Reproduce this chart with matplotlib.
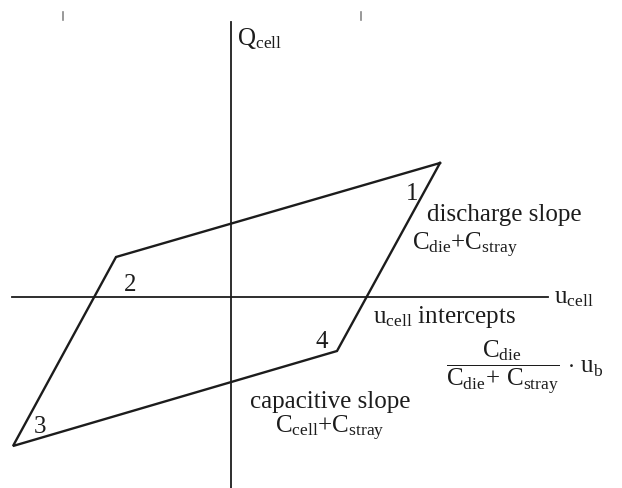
import matplotlib
matplotlib.use("Agg")
import matplotlib.pyplot as plt

# Q-u loop corners 1..4 (cell voltage, charge), origin at the axis crossing
u_cell = [209, -115, -218, 106]
q_cell = [134, 40, -149, -54]
corner_labels = ["1", "2", "3", "4"]
corner_label_pos = [(181, 103), (-101, 12), (-191, -130), (91, -45)]

# axis extents
u_axis = (-219, 317)
q_axis = (-191, 275)

plt.rcParams["font.family"] = "Liberation Serif"
plt.rcParams["mathtext.fontset"] = "custom"
plt.rcParams["mathtext.rm"] = "Liberation Serif"
plt.rcParams["mathtext.it"] = "Liberation Serif:italic"
plt.rcParams["mathtext.bf"] = "Liberation Serif:bold"

ink = "#1c1c1c"
fs = 18

fig = plt.figure(figsize=(6.22, 4.88), dpi=100)
ax = fig.add_axes([0, 0, 1, 1])
ax.set_xlim(-231, 391)
ax.set_ylim(-191, 297)
ax.axis("off")

# axes
ax.plot(u_axis, [0, 0], color=ink, lw=1.3)
ax.plot([0, 0], q_axis, color=ink, lw=1.3)

# closed loop
ax.plot(u_cell + u_cell[:1], q_cell + q_cell[:1], color=ink, lw=1.7,
        solid_joinstyle="miter")

for lab, (x, y) in zip(corner_labels, corner_label_pos):
    ax.text(x, y, lab, fontsize=fs, color=ink, ha="center", va="center")

# small marks along the top edge
for x in (-168, 130):
    ax.plot([x, x], [277, 285], color="#888888", lw=1.2)

ax.text(6, 252, r"$\mathrm{Q_{cell}}$", fontsize=fs, color=ink, va="baseline")
ax.text(323, -6, r"$\mathrm{u_{cell}}$", fontsize=fs, color=ink, va="baseline")

ax.text(196, 76, "discharge slope", fontsize=fs, color=ink, va="baseline")
ax.text(181, 47, r"$\mathrm{C_{die}{+}C_{stray}}$", fontsize=fs, color=ink,
        va="baseline")

ax.text(142, -26, r"$\mathrm{u_{cell}}$ intercepts", fontsize=fs, color=ink,
        va="baseline")
ax.text(215, -70,
        r"$\mathrm{\dfrac{C_{die}}{C_{die}\!+\,C_{stray}}\,\cdot\,u_b}$",
        fontsize=fs, color=ink, va="center")

ax.text(19, -111, "capacitive slope", fontsize=fs, color=ink, va="baseline")
ax.text(44, -136, r"$\mathrm{C_{cell}{+}C_{stray}}$", fontsize=fs, color=ink,
        va="baseline")

fig.savefig("out.png", dpi=100, facecolor="white")
